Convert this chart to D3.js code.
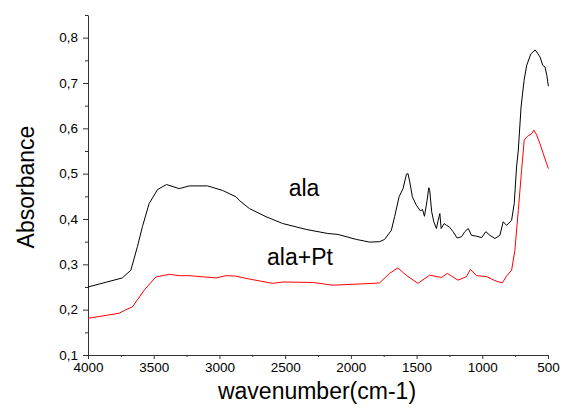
<!DOCTYPE html>
<html>
<head>
<meta charset="utf-8">
<script src="https://cdn.jsdelivr.net/npm/d3@7"></script>
<style>
  body { margin: 0; background: #fff; }
  text { font-family: "Liberation Sans", Arial, sans-serif; }
</style>
</head>
<body>
<div id="chart"></div>
<script>
// wavenumber (cm-1) and absorbance
const alaWave = [4000, 3739, 3674, 3624, 3586, 3535, 3471, 3403, 3306, 3230, 3090, 2976, 2874, 2849, 2772, 2645, 2518,
  2340, 2175, 2099, 1959, 1857, 1781, 1743, 1692, 1667, 1633, 1603, 1577, 1565, 1552, 1532, 1501, 1471, 1455, 1440, 1420, 1407, 1400,
  1385, 1369, 1349, 1336, 1323, 1313, 1290, 1272, 1252, 1222, 1191, 1158, 1133, 1107, 1082, 1043, 1005, 973,
  942, 904, 866, 841, 815, 777, 757, 739, 726, 705, 682, 662, 631, 598, 580, 560, 540, 522, 509, 497];
const alaAbs = [0.250, 0.270, 0.287, 0.339, 0.383, 0.434, 0.465, 0.476, 0.467, 0.473, 0.473, 0.463, 0.449, 0.441, 0.423, 0.405, 0.390,
  0.377, 0.368, 0.366, 0.355, 0.349, 0.350, 0.355, 0.375, 0.405, 0.449, 0.467, 0.499, 0.500, 0.482, 0.449, 0.430, 0.418, 0.421, 0.406, 0.441, 0.469, 0.463,
  0.416, 0.394, 0.379, 0.397, 0.412, 0.379, 0.390, 0.386, 0.383, 0.372, 0.358, 0.361, 0.372, 0.379, 0.364, 0.362, 0.359, 0.372,
  0.364, 0.357, 0.364, 0.394, 0.386, 0.397, 0.434, 0.515, 0.552, 0.647, 0.706, 0.739, 0.764, 0.773, 0.766, 0.757, 0.739, 0.735, 0.717, 0.693];

const ptWave = [4000, 3764, 3712, 3662, 3573, 3484, 3382, 3306, 3230, 3026, 2950, 2874, 2798, 2595, 2518, 2290, 2137, 1832, 1781, 1706, 1642,
  1579, 1490, 1401, 1311, 1266, 1185, 1120, 1090, 1043, 967, 904, 848, 815, 777, 752, 726, 701, 681, 658, 625, 607,
  586, 561, 536, 497];
const ptAbs = [0.181, 0.192, 0.200, 0.206, 0.243, 0.272, 0.278, 0.275, 0.275, 0.270, 0.275, 0.274, 0.269, 0.258, 0.261, 0.260, 0.254, 0.258, 0.259, 0.280, 0.292,
  0.276, 0.258, 0.276, 0.271, 0.280, 0.265, 0.273, 0.289, 0.275, 0.273, 0.264, 0.259, 0.274, 0.287, 0.331, 0.419, 0.507, 0.574, 0.582, 0.588, 0.596,
  0.585, 0.566, 0.544, 0.511];

const xTicks = [4000, 3500, 3000, 2500, 2000, 1500, 1000, 500];
const yTicks = [0.1, 0.2, 0.3, 0.4, 0.5, 0.6, 0.7, 0.8];

const width = 569, height = 412;
const margin = {top: 15, right: 21, bottom: 57, left: 88};
const font = '"Liberation Sans", Arial, sans-serif';

const svg = d3.select('#chart').append('svg')
  .attr('width', width)
  .attr('height', height);

const x = d3.scaleLinear().domain([4000, 500]).range([margin.left, width - margin.right]);
const y = d3.scaleLinear().domain([0.1, 0.85]).range([height - margin.bottom, margin.top]);

const comma = d => d3.format('.1f')(d).replace('.', ',');

// minor ticks first, then major on top
svg.append('g')
  .attr('transform', `translate(0,${height - margin.bottom})`)
  .call(d3.axisBottom(x).tickValues(d3.range(3750, 500, -500)).tickSize(2).tickFormat(''))
  .call(g => g.select('.domain').remove());
svg.append('g')
  .attr('transform', `translate(${margin.left},0)`)
  .call(d3.axisLeft(y).tickValues([0.15, 0.25, 0.35, 0.45, 0.55, 0.65, 0.75, 0.85]).tickSize(3).tickFormat(''))
  .call(g => g.select('.domain').remove());

const xAxis = svg.append('g')
  .attr('transform', `translate(0,${height - margin.bottom})`)
  .call(d3.axisBottom(x).tickValues(xTicks).tickFormat(d3.format('d')).tickSize(4).tickPadding(3).tickSizeOuter(0));
xAxis.selectAll('text').attr('font-size', 13.5).attr('fill', '#000').attr('font-family', font);

const yAxis = svg.append('g')
  .attr('transform', `translate(${margin.left},0)`)
  .call(d3.axisLeft(y).tickValues(yTicks).tickFormat(comma).tickSize(5).tickPadding(5).tickSizeOuter(0));
yAxis.selectAll('text').attr('font-size', 13.5).attr('fill', '#000').attr('font-family', font);

svg.selectAll('.domain, .tick line').attr('stroke', '#333');

const line = d3.line().x(d => x(d[0])).y(d => y(d[1]));

svg.append('path')
  .datum(d3.zip(alaWave, alaAbs))
  .attr('fill', 'none')
  .attr('stroke', '#000')
  .attr('stroke-width', 1)
  .attr('d', line);

svg.append('path')
  .datum(d3.zip(ptWave, ptAbs))
  .attr('fill', 'none')
  .attr('stroke', '#ff0000')
  .attr('stroke-width', 1)
  .attr('d', line);

// series labels
svg.append('text').attr('x', 304).attr('y', 196).attr('text-anchor', 'middle')
  .attr('font-size', 23).text('ala');
svg.append('text').attr('x', 300).attr('y', 265).attr('text-anchor', 'middle')
  .attr('font-size', 23).text('ala+Pt');

// axis titles
svg.append('text')
  .attr('x', 317).attr('y', 399).attr('text-anchor', 'middle')
  .attr('font-size', 23).text('wavenumber(cm-1)');
svg.append('text')
  .attr('transform', 'translate(34,187) rotate(-90)')
  .attr('text-anchor', 'middle')
  .attr('font-size', 23).text('Absorbance');
</script>
</body>
</html>
